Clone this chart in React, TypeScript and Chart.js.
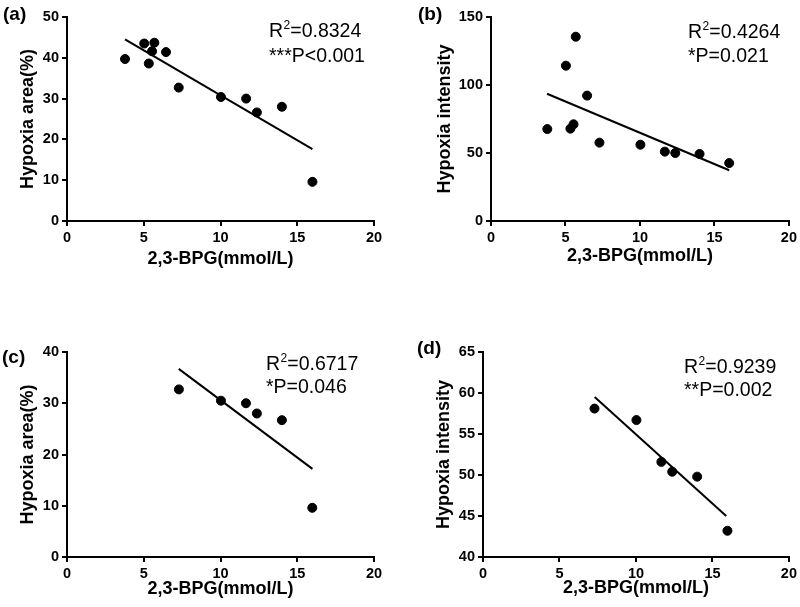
import React, { useEffect, useRef } from 'react';
import { Chart, registerables } from 'chart.js';
Chart.register(...registerables);

// ---- data ----
const bpgAll = [3.78, 5.03, 5.33, 5.54, 5.69, 6.45, 7.28, 10.03, 11.67, 12.37, 14.0, 15.99];
const areaAll = [39.7, 43.5, 38.6, 41.6, 43.7, 41.4, 32.7, 30.4, 30.0, 26.6, 28.0, 9.6];
const intensityAll = [67.6, 114.2, 67.9, 71.1, 135.5, 92.2, 57.6, 56.1, 51.0, 50.0, 49.3, 42.6];

const bpgSub = [7.29, 10.03, 11.66, 12.37, 14.0, 15.98];
const areaSub = [32.7, 30.5, 30.0, 28.0, 26.7, 9.6];
const intensitySub = [58.1, 56.7, 51.6, 50.4, 49.8, 43.2];

// fitted-line end points
const fitAx = [3.78, 15.99];
const fitAy = [44.5, 17.6];
const fitBx = [3.76, 15.99];
const fitBy = [93.6, 37.3];
const fitCx = [7.28, 15.99];
const fitCy = [36.7, 17.2];
const fitDx = [7.3, 15.9];
const fitDy = [59.5, 45.0];

const xTitle = '2,3-BPG(mmol/L)';
const panelLabels = ['(a)', '(b)', '(c)', '(d)'];
const yTitles = ['Hypoxia area(%)', 'Hypoxia intensity', 'Hypoxia area(%)', 'Hypoxia intensity'];
const r2Values = ['0.8324', '0.4264', '0.6717', '0.9239'];
const pTexts = ['***P<0.001', '*P=0.021', '*P=0.046', '**P=0.002'];
const yRanges = [
  [0, 50, 10],
  [0, 150, 50],
  [0, 40, 10],
  [40, 65, 5],
];
const xRange = [0, 20, 5];

const FONT = '"Liberation Sans", Arial, Helvetica, sans-serif';

type Layout = {
  left: number; top: number; width: number; height: number;
  plotLeft: number; plotRight: number; plotTop: number; plotBottom: number;
  yTitlePad: number; xTitlePad: number;
  labelX: number; labelY: number;
  annX: number; annY1: number; annY2: number;
};

const layouts: Layout[] = [
  { left: 0, top: 0, width: 400, height: 300, plotLeft: 67, plotRight: 374, plotTop: 17, plotBottom: 221, yTitlePad: 17, xTitlePad: 30, labelX: 3, labelY: 15, annX: 269, annY1: 32, annY2: 57 },
  { left: 400, top: 0, width: 400, height: 300, plotLeft: 491, plotRight: 791, plotTop: 17, plotBottom: 221, yTitlePad: 34, xTitlePad: 33, labelX: 18, labelY: 15, annX: 288, annY1: 33, annY2: 57 },
  { left: 0, top: 300, width: 400, height: 307, plotLeft: 67, plotRight: 374, plotTop: 352, plotBottom: 557, yTitlePad: 17, xTitlePad: 7.5, labelX: 2, labelY: 58, annX: 266, annY1: 65, annY2: 88 },
  { left: 400, top: 300, width: 400, height: 307, plotLeft: 483, plotRight: 791, plotTop: 352, plotBottom: 557, yTitlePad: 33, xTitlePad: 8, labelX: 17, labelY: 49, annX: 284, annY1: 68, annY2: 91 },
];

const pointsData = [
  { xs: bpgAll, ys: areaAll, fx: fitAx, fy: fitAy },
  { xs: bpgAll, ys: intensityAll, fx: fitBx, fy: fitBy },
  { xs: bpgSub, ys: areaSub, fx: fitCx, fy: fitCy },
  { xs: bpgSub, ys: intensitySub, fx: fitDx, fy: fitDy },
];

function Panel({ idx }: { idx: number }) {
  const ref = useRef<HTMLCanvasElement | null>(null);
  const L = layouts[idx];
  useEffect(() => {
    if (!ref.current) return;
    const d = pointsData[idx];
    const [ymin, ymax, ystep] = yRanges[idx];
    const annot = {
      id: 'annot' + idx,
      afterDraw(chart: any) {
        const ctx = chart.ctx;
        ctx.save();
        ctx.fillStyle = '#000';
        ctx.textBaseline = 'middle';
        ctx.textAlign = 'left';
        ctx.font = `bold 19px ${FONT}`;
        ctx.fillText(panelLabels[idx], L.labelX, L.labelY);
        ctx.font = `19.5px ${FONT}`;
        let x = L.annX;
        ctx.fillText('R', x, L.annY1);
        x += ctx.measureText('R').width;
        ctx.font = `12px ${FONT}`;
        ctx.fillText('2', x + 0.5, L.annY1 - 6);
        x += ctx.measureText('2').width + 0.5;
        ctx.font = `19.5px ${FONT}`;
        ctx.fillText('=' + r2Values[idx], x, L.annY1);
        ctx.fillText(pTexts[idx], L.annX, L.annY2);
        ctx.restore();
      },
    };
    const axisCommon = {
      border: { display: true, color: '#000', width: 2 },
      grid: { drawOnChartArea: false, drawTicks: true, tickLength: 5, color: '#000', lineWidth: 2 },
    };
    const chart = new Chart(ref.current, {
      type: 'scatter',
      data: {
        datasets: [
          {
            data: d.xs.map((x, i) => ({ x, y: d.ys[i] })),
            backgroundColor: '#000',
            borderColor: '#000',
            pointRadius: 4.5,
            pointHoverRadius: 4.5,
          },
          {
            data: d.fx.map((x, i) => ({ x, y: d.fy[i] })),
            showLine: true,
            borderColor: '#000',
            borderWidth: 2,
            pointRadius: 0,
            pointHoverRadius: 0,
          },
        ],
      },
      options: {
        responsive: false,
        animation: false,
        devicePixelRatio: 1,
        layout: {
          padding: {
            left: 0,
            top: L.plotTop - L.top,
            right: L.left + L.width - L.plotRight,
            bottom: 0,
          },
        },
        plugins: { legend: { display: false }, tooltip: { enabled: false } },
        scales: {
          x: {
            type: 'linear',
            min: xRange[0],
            max: xRange[1],
            ...axisCommon,
            ticks: { stepSize: xRange[2], color: '#000', padding: 3, font: { family: FONT, size: 14.5, weight: 'bold' } },
            title: { display: true, text: xTitle, color: '#000', padding: { top: 0, bottom: L.xTitlePad }, font: { family: FONT, size: 18, weight: 'bold' } },
            afterFit: (s: any) => { s.height = L.top + L.height - L.plotBottom; },
          },
          y: {
            type: 'linear',
            min: ymin,
            max: ymax,
            ...axisCommon,
            ticks: { stepSize: ystep, color: '#000', padding: 3, font: { family: FONT, size: 14.5, weight: 'bold' } },
            title: { display: true, text: yTitles[idx], color: '#000', padding: { top: L.yTitlePad, bottom: 0 }, font: { family: FONT, size: 18, weight: 'bold' } },
            afterFit: (s: any) => { s.width = L.plotLeft - L.left; },
          },
        },
      } as any,
      plugins: [annot],
    });
    return () => chart.destroy();
  }, [idx]);
  return (
    <div style={{ position: 'absolute', left: L.left, top: L.top, width: L.width, height: L.height }}>
      <canvas ref={ref} width={L.width} height={L.height} style={{ display: 'block' }} />
    </div>
  );
}

export default function App() {
  return (
    <div style={{ position: 'absolute', left: 0, top: 0, width: 800, height: 607, background: '#fff', overflow: 'hidden' }}>
      {[0, 1, 2, 3].map((i) => (
        <Panel key={i} idx={i} />
      ))}
    </div>
  );
}
